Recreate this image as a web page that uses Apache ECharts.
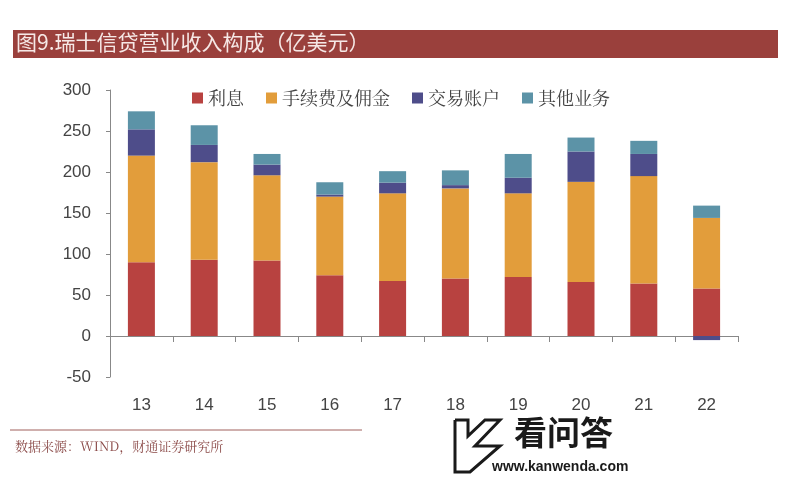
<!DOCTYPE html>
<html><head><meta charset="utf-8">
<script src="https://cdn.jsdelivr.net/npm/echarts@6/dist/echarts.min.js"></script>
<style>html,body{margin:0;padding:0;background:#fff}#c{width:796px;height:480px}</style>
</head><body><div id="c"></div>
<script>
const categories = ['13','14','15','16','17','18','19','20','21','22'];
const interest = [90, 93, 92, 74, 67, 70, 72, 66, 64, 58];
const fees = [130, 119, 104, 96, 107, 110, 102, 122, 131, 86];
const trading = [32, 21, 13, 2.5, 13, 4, 19, 37, 27, -5];
const other = [22, 24, 13, 15, 14, 18, 29, 17, 16, 15];
const seriesNames = ['利息', '手续费及佣金', '交易账户', '其他业务'];
const yTicks = {min: -50, max: 300, interval: 50};

const colors = ['#B84240', '#E29D3B', '#4E4D8A', '#5C93A7'];
const chart = echarts.init(document.getElementById('c'));
const mk = (name, data, i) => ({
  name, type: 'bar', stack: 'total', data, barWidth: 27,
  itemStyle: {color: colors[i]}
});
chart.setOption({
  animation: false,
  textStyle: {fontFamily: '"Noto Sans CJK SC", sans-serif'},
  grid: {left: 110, right: 58, top: 90, bottom: 103},
  legend: {
    left: 187, top: 84, itemWidth: 11, itemHeight: 11, itemGap: 22,
    icon: 'rect',
    textStyle: {fontSize: 18, color: '#444', fontFamily: '"Noto Serif CJK SC","Noto Sans CJK SC", serif'},
    data: seriesNames
  },
  xAxis: {
    type: 'category', data: categories,
    axisLine: {lineStyle: {color: '#888'}},
    axisTick: {show: true, length: 6, lineStyle: {color: '#888'}},
    axisLabel: {fontSize: 17, color: '#444', margin: 20, fontFamily: 'Liberation Sans, Arial'}
  },
  yAxis: {
    type: 'value', min: yTicks.min, max: yTicks.max, interval: yTicks.interval,
    splitLine: {show: false},
    axisLine: {show: true, lineStyle: {color: '#888'}},
    axisTick: {show: true, length: 4, lineStyle: {color: '#888'}},
    axisLabel: {fontSize: 17, color: '#444', margin: 19, fontFamily: 'Liberation Sans, Arial'}
  },
  series: [mk(seriesNames[0], interest, 0), mk(seriesNames[1], fees, 1), mk(seriesNames[2], trading, 2), mk(seriesNames[3], other, 3)],
  graphic: [
    {type: 'rect', shape: {x: 13, y: 30, width: 765, height: 28}, style: {fill: '#9A403C'}},
    {type: 'text', left: 16, top: 32, style: {text: '图9.瑞士信贷营业收入构成（亿美元）', fill: '#F6E8E6', fontSize: 21, fontFamily: '"Noto Sans CJK SC", sans-serif'}},
    {type: 'line', shape: {x1: 10, y1: 430, x2: 362, y2: 430}, style: {stroke: '#A0605C', lineWidth: 1}},
    {type: 'text', left: 15, top: 440, style: {text: '数据来源：WIND，财通证券研究所', fill: '#8B4A48', fontSize: 13, fontFamily: '"Noto Serif CJK SC","Noto Sans CJK SC", serif'}},
    {type: 'text', left: 514, top: 416, style: {text: '看问答', fill: '#1a1a1a', fontSize: 33, fontWeight: 'bold', fontFamily: '"Noto Sans CJK SC", sans-serif'}},
    {type: 'text', left: 492, top: 460, style: {text: 'www.kanwenda.com', fill: '#1a1a1a', fontSize: 14, fontWeight: 'bold', fontFamily: 'Liberation Sans, Arial'}},
    {type: 'polyline', shape: {points: [[455,420],[455,472],[470,472],[500,446],[475,446],[500,420],[485,420],[468,436],[468,420],[455,420]]}, style: {fill: 'none', stroke: '#1a1a1a', lineWidth: 3}}
  ]
});
</script></body></html>
